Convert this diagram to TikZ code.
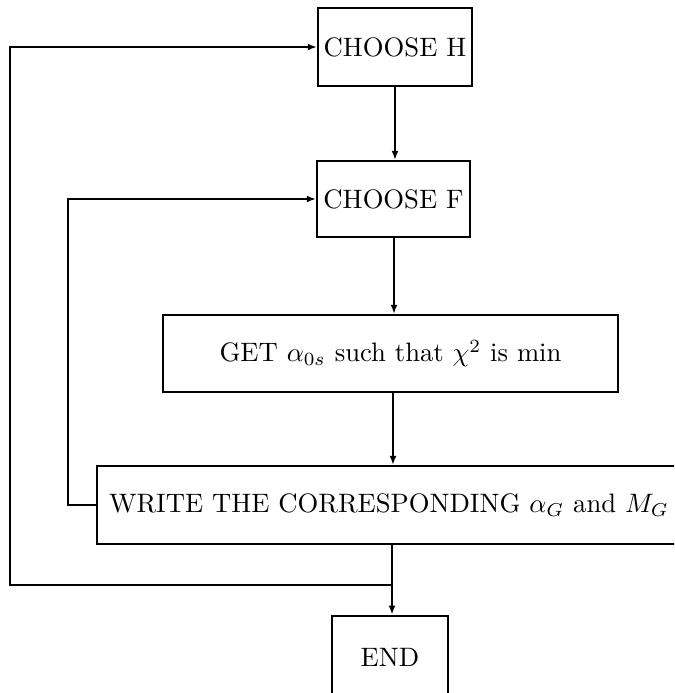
\documentclass[tikz,border=0pt]{standalone}
\usetikzlibrary{arrows.meta}
\begin{document}
\begin{tikzpicture}[x=0.375pt,y=-0.375pt,
  flowbox/.style={draw,line width=0.8pt,rectangle,inner sep=0pt,font=\normalsize},
  conn/.style={line width=0.75pt},
  arr/.style={conn,-{Latex[length=3.4pt,width=2.6pt]}}]
\clip (0,0) rectangle (674,693);
\useasboundingbox (0,0) rectangle (674,693);
\node[flowbox,minimum width=57.75pt,minimum height=29.25pt] (H) at (395,47) {CHOOSE H};
\node[flowbox,minimum width=57.4pt,minimum height=28.5pt] (F) at (393.5,199) {CHOOSE F};
\node[flowbox,minimum width=170.6pt,minimum height=28.9pt] (G) at (390.5,353.5) {GET $\alpha_{0s}$ such that $\chi^2$ is min};
\node[flowbox,minimum width=219pt,minimum height=29.25pt] (W) at (389,505) {WRITE THE CORRESPONDING $\alpha_G$ and $M_G$};
\node[flowbox,minimum width=43.5pt,minimum height=31pt] (E) at (390,657) {END};
\coordinate (J) at (392,585);
\coordinate (LF) at (68,505);
\coordinate (LH) at (10,585);
\draw[arr] (H.south -| 395,0) -- (395,0 |- F.north);
\draw[arr] (F.south -| 394,0) -- (394,0 |- G.north);
\draw[arr] (G.south -| 393,0) -- (393,0 |- W.north);
\draw[conn] (W.south -| J) -- (J);
\draw[arr] (J) -- (J |- E.north);
\draw[arr] (W.west) -- (W.west -| LF) -- (LF |- F.west) -- (F.west);
\draw[arr] (J) -- (LH) -- (LH |- H.west) -- (H.west);
\end{tikzpicture}
\end{document}
